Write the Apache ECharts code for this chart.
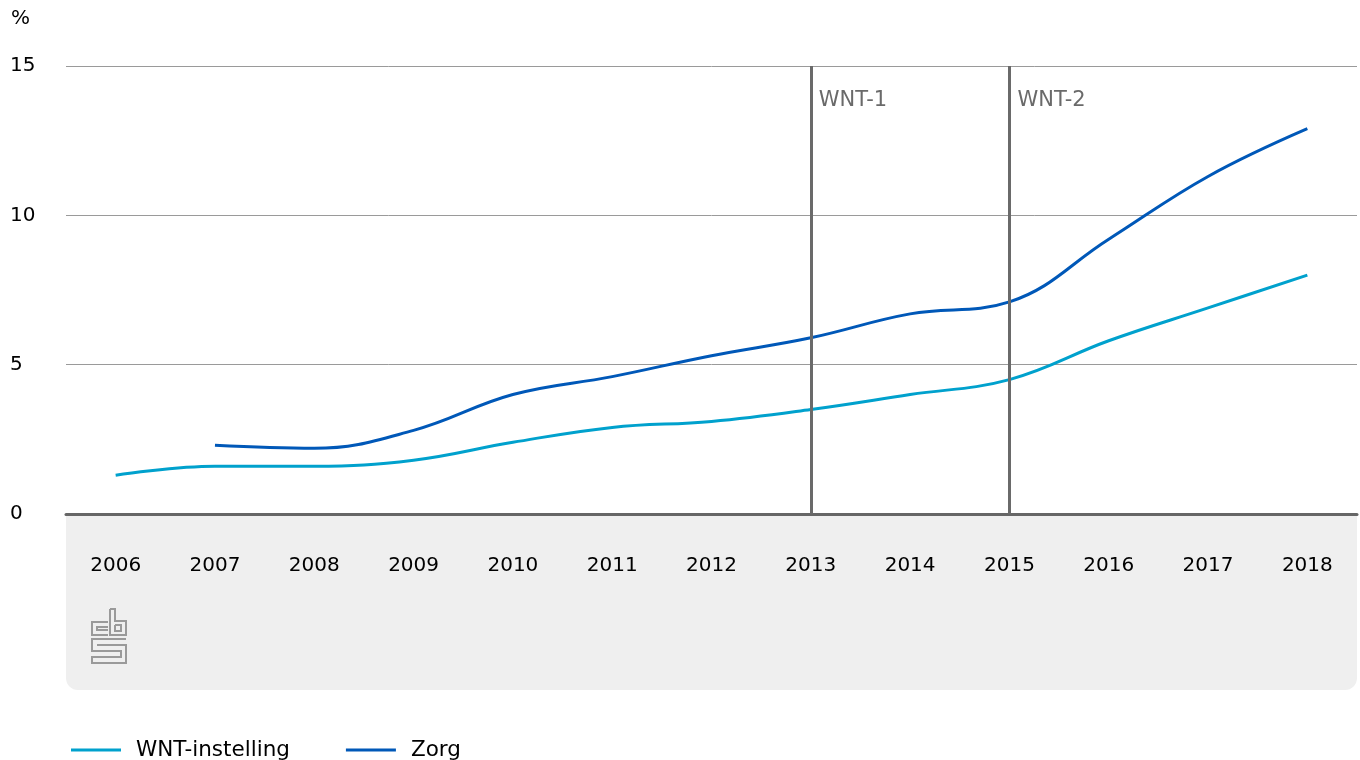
<!DOCTYPE html>
<html>
<head>
<meta charset="utf-8">
<script src="https://cdn.jsdelivr.net/npm/echarts@6/dist/echarts.min.js"></script>
<style>
html,body{margin:0;padding:0;background:#fff;}
#c{width:1360px;height:760px;}
</style>
</head>
<body>
<div id="c"></div>
<script>
var years = ['2006','2007','2008','2009','2010','2011','2012','2013','2014','2015','2016','2017','2018'];
var wntInstelling = [1.3, 1.6, 1.6, 1.8, 2.4, 2.9, 3.1, 3.5, 4.0, 4.5, 5.8, 6.9, 8.0];
var zorg = [null, 2.3, 2.2, 2.8, 4.0, 4.6, 5.3, 5.9, 6.7, 7.1, 9.2, 11.3, 12.9];
var yTicks = [0, 5, 10, 15];
var markers = [{year: '2013', label: 'WNT-1'}, {year: '2015', label: 'WNT-2'}];

var FONT = '"DejaVu Sans", "Noto Sans", sans-serif';
var FS = 20;
var chart = echarts.init(document.getElementById('c'));

var logoStyle = {stroke: '#9a9a9a', lineWidth: 2, fill: null};
var option = {
  animation: false,
  textStyle: {fontFamily: FONT},
  grid: {left: 66, right: 3, top: 66, bottom: 246, containLabel: false},
  legend: {
    left: 66, top: 734,
    itemWidth: 50, itemHeight: 3, itemGap: 56,
    icon: 'rect',
    textStyle: {fontSize: 21.5, color: '#000', fontFamily: FONT, padding: [0, 0, 0, 10]},
    data: ['WNT-instelling', 'Zorg']
  },
  graphic: [
    {type: 'rect', z: -10, shape: {x: 66, y: 514, width: 1291, height: 176, r: [0, 0, 12, 12]}, style: {fill: '#efefef'}},
    {type: 'text', left: 11, top: 9, style: {text: '%', fontSize: FS, fill: '#000', fontFamily: FONT}},
    {type: 'polyline', z: 5, shape: {points: [[108,622],[92,622],[92,635],[108,635]]}, style: logoStyle},
    {type: 'polyline', z: 5, shape: {points: [[108,627],[97,627],[97,630],[108,630]]}, style: logoStyle},
    {type: 'polyline', z: 5, shape: {points: [[110,609],[115,609],[115,621],[126,621],[126,635],[110,635],[110,609]]}, style: logoStyle},
    {type: 'polyline', z: 5, shape: {points: [[115,625],[121,625],[121,631],[115,631],[115,625]]}, style: logoStyle},
    {type: 'polyline', z: 5, shape: {points: [[126,639],[92,639],[92,651],[121,651],[121,657],[92,657],[92,663],[126,663],[126,645],[97,645]]}, style: logoStyle}
  ],
  xAxis: {
    type: 'category',
    data: years,
    boundaryGap: true,
    axisLine: {lineStyle: {color: '#666', width: 3}},
    axisTick: {alignWithLabel: true, length: 16, lineStyle: {color: '#c8c8c8', width: 2}},
    axisLabel: {fontSize: FS, color: '#000', margin: 42, fontFamily: FONT},
    splitLine: {show: false}
  },
  yAxis: {
    type: 'value',
    min: 0, max: 15, interval: 5,
    axisLine: {show: false},
    axisTick: {show: false},
    axisLabel: {fontSize: FS, color: '#000', align: 'left', margin: 56, fontFamily: FONT,
      formatter: function (v) { return yTicks.indexOf(v) >= 0 ? String(v) : ''; }},
    splitLine: {lineStyle: {color: '#9a9a9a', width: 1}}
  },
  series: [
    {
      name: 'WNT-instelling', type: 'line', data: wntInstelling, smooth: 0.4,
      showSymbol: false, symbol: 'none',
      lineStyle: {color: '#00a1cd', width: 3}, itemStyle: {color: '#00a1cd'},
      markLine: {
        silent: true, symbol: 'none',
        lineStyle: {color: '#6a6a6a', width: 3, type: 'solid'},
        data: markers.map(function (m) {
          return {xAxis: m.year, label: {show: true, formatter: m.label, position: 'end', color: '#6a6a6a', fontSize: 21, fontFamily: FONT, align: 'left', verticalAlign: 'top', offset: [8, 24], distance: 0}};
        })
      }
    },
    {
      name: 'Zorg', type: 'line', data: zorg, smooth: 0.4,
      showSymbol: false, symbol: 'none', connectNulls: false,
      lineStyle: {color: '#0058b8', width: 3}, itemStyle: {color: '#0058b8'}
    }
  ]
};
chart.setOption(option);
</script>
</body>
</html>
